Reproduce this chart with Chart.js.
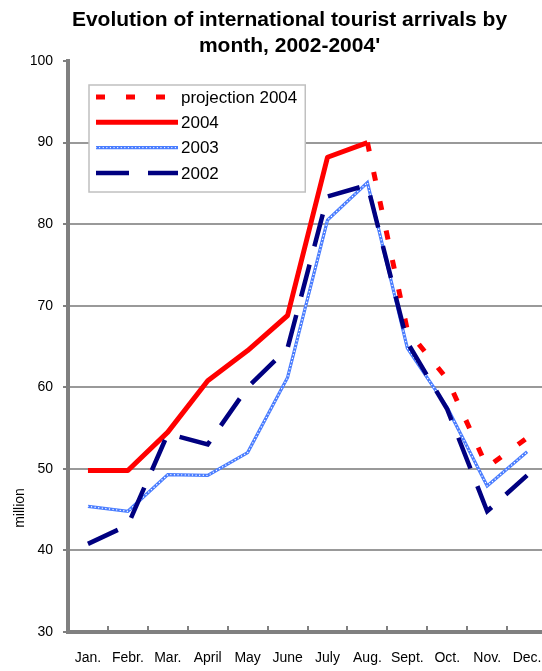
<!DOCTYPE html>
<html>
<head>
<meta charset="utf-8">
<title>International tourist arrivals by month</title>
<script src="https://cdn.jsdelivr.net/npm/chart.js@4/dist/chart.umd.min.js"></script>
<style>
  html, body { margin: 0; padding: 0; background: #fff; overflow: hidden; }
  #wrap { width: 560px; height: 671px; }
</style>
</head>
<body>
<div id="wrap"><canvas id="chart" width="560" height="671"></canvas></div>
<script>
// Months on the category axis
const months = ['Jan.', 'Febr.', 'Mar.', 'April', 'May', 'June', 'July', 'Aug.', 'Sept.', 'Oct.', 'Nov.', 'Dec.'];

// Arrivals, million
const projection2004 = [null, null, null, null, null, null, null, 90, 67, 61, 50.2, 53.8];
const arrivals2004   = [49.8, 49.8, 54.5, 60.8, 64.5, 68.8, 88.2, 90];
const arrivals2003   = [45.4, 44.8, 49.3, 49.2, 52, 61.2, 80.5, 85.1, 64.8, 57.5, 47.9, 52.1];
const arrivals2002   = [40.8, 43.1, 54.3, 53, 60, 64.8, 83.4, 84.8, 65.5, 57.3, 44.8, 49.2];

// Value axis range
const yMin = 30, yMax = 100, yStep = 10;

const titleLines = ['Evolution of international tourist arrivals by', "month, 2002-2004'"];
const yAxisTitle = 'million';

const FONT = "'Liberation Sans', Arial, sans-serif";
const AXIS_GREY = '#808080';
const GRID_GREY = '#999999';
const BLUE_2003 = '#4a7dff';

Chart.defaults.font.family = FONT;
Chart.defaults.color = '#000';

// Hollow-dot look of the 2003 line: white dots stroked over the blue line
function strokeChainDots(ctx, x0, y, x1) {
  ctx.save();
  ctx.strokeStyle = '#ffffff';
  ctx.lineWidth = 1.4;
  ctx.lineCap = 'round';
  ctx.setLineDash([0.01, 3.6]);
  ctx.beginPath();
  ctx.moveTo(x0, y);
  ctx.lineTo(x1, y);
  ctx.stroke();
  ctx.restore();
}

// Legend drawn as a framed box inside the plot area
const boxLegend = {
  id: 'boxLegend',
  afterDatasetsDraw(chart) {
    const ctx = chart.ctx;
    const items = chart.data.datasets
      .filter(d => d.legendRow !== undefined)
      .sort((a, b) => a.legendRow - b.legendRow);
    const left = 89, top = 85, rowH = 25.3;
    const sx0 = 96, sx1 = 178, tx = 181;
    ctx.save();
    ctx.font = '17px ' + FONT;
    const textW = Math.max(...items.map(d => ctx.measureText(d.label).width));
    const w = tx + textW + 8 - left, h = 107;
    ctx.fillStyle = '#fff';
    ctx.fillRect(left, top, w, h);
    ctx.strokeStyle = '#c0c0c0';
    ctx.lineWidth = 1.5;
    ctx.strokeRect(left, top, w, h);
    items.forEach((d, i) => {
      const y = top + 12 + i * rowH;
      ctx.save();
      ctx.strokeStyle = d.borderColor;
      ctx.lineWidth = d.borderWidth;
      ctx.setLineDash(d.borderDash || []);
      ctx.beginPath();
      ctx.moveTo(sx0, y);
      ctx.lineTo(sx1, y);
      ctx.stroke();
      ctx.restore();
      if (d.chainDots) strokeChainDots(ctx, sx0, y, sx1);
      ctx.fillStyle = '#000';
      ctx.textAlign = 'left';
      ctx.textBaseline = 'middle';
      ctx.fillText(d.label, tx, y + 1);
    });
    ctx.restore();
  }
};

// Small upward tick marks between the months, and the rotated unit label
const axisExtras = {
  id: 'axisExtras',
  afterDraw(chart) {
    const ctx = chart.ctx;
    const xs = chart.scales.x;
    ctx.save();
    ctx.strokeStyle = AXIS_GREY;
    ctx.lineWidth = 2;
    const yBase = xs.top - 1;
    for (let i = 1; i <= xs.ticks.length; i++) {
      const px = Math.round(xs.getPixelForTick(i - 1) + (xs.getPixelForTick(1) - xs.getPixelForTick(0)) / 2);
      ctx.beginPath();
      ctx.moveTo(px, yBase);
      ctx.lineTo(px, yBase - 5);
      ctx.stroke();
    }
    ctx.translate(20, 508);
    ctx.rotate(-Math.PI / 2);
    ctx.fillStyle = '#000';
    ctx.font = '14px ' + FONT;
    ctx.textAlign = 'center';
    ctx.textBaseline = 'middle';
    ctx.fillText(yAxisTitle, 0, 0);
    ctx.restore();
  }
};

new Chart(document.getElementById('chart'), {
  type: 'line',
  data: {
    labels: months,
    datasets: [
      {
        label: '2002', data: arrivals2002, legendRow: 3,
        borderColor: '#000080', borderWidth: 4.5, borderDash: [33, 19],
        order: 0
      },
      {
        label: '2003 dots', data: arrivals2003,
        borderColor: '#ffffff', borderWidth: 1.4, borderDash: [0.01, 3.6], borderCapStyle: 'round',
        order: 1
      },
      {
        label: '2003', data: arrivals2003, legendRow: 2, chainDots: true,
        borderColor: BLUE_2003, borderWidth: 3.2,
        order: 2
      },
      {
        label: '2004', data: arrivals2004, legendRow: 1,
        borderColor: '#ff0000', borderWidth: 5, borderJoinStyle: 'round',
        order: 3
      },
      {
        label: 'projection 2004', data: projection2004, legendRow: 0,
        borderColor: '#ff0000', borderWidth: 5, borderDash: [9, 21],
        order: 4
      }
    ]
  },
  options: {
    responsive: false,
    animation: false,
    devicePixelRatio: 1,
    layout: { padding: { left: 31, right: 12, top: 0, bottom: 0 } },
    elements: {
      point: { radius: 0, hoverRadius: 0 },
      line: { tension: 0, fill: false }
    },
    plugins: {
      legend: { display: false },
      tooltip: { enabled: false },
      title: {
        display: true,
        text: titleLines,
        color: '#000',
        font: { family: FONT, size: 21, weight: 'bold', lineHeight: '26px' },
        padding: { top: 7, bottom: 2 }
      }
    },
    scales: {
      x: {
        type: 'category',
        offset: true,
        afterFit: s => { s.height = 39; },
        grid: { display: true, drawOnChartArea: false, drawTicks: false, offset: true },
        border: { display: true, color: AXIS_GREY, width: 4 },
        ticks: { font: { size: 14 }, padding: 18, maxRotation: 0, autoSkip: false, color: '#000' }
      },
      y: {
        min: yMin, max: yMax,
        afterFit: s => { s.width = 37; },
        grid: {
          color: ctx => (ctx.tick && ctx.tick.value === yMax) ? 'rgba(0,0,0,0)' : GRID_GREY,
          lineWidth: 2,
          drawTicks: true, tickLength: 5, tickColor: AXIS_GREY, tickWidth: 2
        },
        border: { display: true, color: AXIS_GREY, width: 4 },
        ticks: { stepSize: yStep, font: { size: 14 }, padding: 10, color: '#000' }
      }
    }
  },
  plugins: [boxLegend, axisExtras]
});
</script>
</body>
</html>
